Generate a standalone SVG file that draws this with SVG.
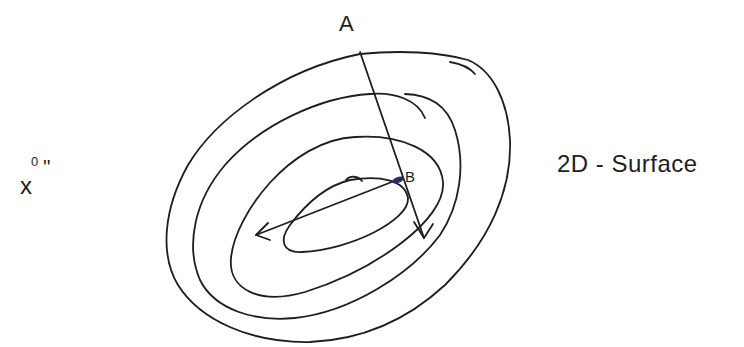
<svg xmlns="http://www.w3.org/2000/svg" width="744" height="347" viewBox="0 0 744 347">
<style>
.c{fill:none;stroke:#1e1e1e;stroke-width:1.8;stroke-linecap:round;stroke-linejoin:round}
.t{font-family:"Liberation Sans",Arial,sans-serif;fill:#1e1e1e}
</style>
<rect width="744" height="347" fill="#fff"/>
<g id="contours">
<path id="outer" class="c" d="M360,54 C400,50 440,52 468,60 C492,70 508,100 510,140 C512,190 490,240 445,285 C405,322 360,340 310,342 C250,343 200,320 178,285 C160,255 163,210 188,165 C215,120 280,70 360,54 Z"/>
<path class="c" d="M450,62 C462,64 470,68 475,74"/>
<path id="second" class="c" d="M425,118 C418,100 395,92 370,94 C320,97 260,125 225,165 C195,200 185,245 200,280 C215,310 255,322 295,318 C350,312 410,275 440,235 C460,205 466,165 455,130 C447,105 430,95 405,94"/>
<path id="third" class="c" d="M355,137 C400,134 440,150 443,182 C446,220 375,270 305,292 C260,305 228,290 231,258 C235,215 290,140 355,137 Z"/>
<path id="inner" class="c" d="M350,180 C380,175 405,180 408,198 C410,220 350,250 302,252 C282,253 279,240 290,225 C305,205 325,186 350,180 Z"/>
<path class="c" d="M346,180 C350,175 358,176 362,181"/>
</g>
<g id="connectors">
<path class="c" d="M360,52 L424,238"/>
<path class="c" d="M414,222 L424,238 L433,224"/>
<path class="c" d="M402,178 L256,235"/>
<path class="c" d="M268,223 L256,235 L270,240"/>
<ellipse cx="398" cy="180" rx="6" ry="3" transform="rotate(-20 398 180)" fill="#2b2b66"/>
</g>
<g id="labels">
<text class="t" x="339" y="31" font-size="22">A</text>
<text class="t" x="405" y="182" font-size="15">B</text>
<text class="t" x="557" y="172" font-size="24" letter-spacing="0.5">2D - Surface</text>
<text class="t" x="20" y="194" font-size="24">x</text>
<text class="t" x="31" y="166" font-size="13">0</text>
<text class="t" x="43" y="174" font-size="20">''</text>
</g>
</svg>
